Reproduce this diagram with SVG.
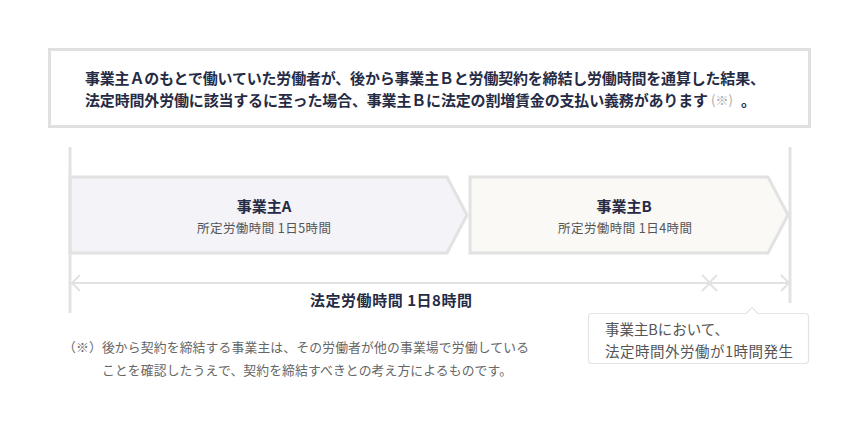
<svg xmlns="http://www.w3.org/2000/svg" width="860" height="430" viewBox="0 0 860 430">
<style>
.jp{font-family:"Noto Sans CJK JP","Noto Sans",sans-serif}
.b{font-weight:700;fill:#262b45}
.sub{font-size:12.5px;fill:#555555}
.note{font-size:12.8px;fill:#666666}
.line{stroke:#e2e2e2;stroke-width:2;fill:none}
.vline{stroke:#e2e2e2;stroke-width:3;fill:none}
.box{stroke:#e2e2e2;stroke-width:3}
</style>
<rect width="860" height="430" fill="#ffffff"/>
<g id="summary">
<rect x="49.5" y="49.5" width="760" height="77" fill="#ffffff" stroke="#e0e0e0" stroke-width="3"/>
<text class="jp b" x="85" y="84" font-size="15" textLength="680" lengthAdjust="spacing">事業主Ａのもとで働いていた労働者が、後から事業主Ｂと労働契約を締結し労働時間を通算した結果、</text>
<text class="jp b" x="85" y="106" font-size="15" textLength="623" lengthAdjust="spacing">法定時間外労働に該当するに至った場合、事業主Ｂに法定の割増賃金の支払い義務があります</text>
<text class="jp" x="711" y="105" font-size="13" fill="#a8a8a8">(※)</text>
<text class="jp b" x="741" y="106" font-size="15">。</text>
</g>
<g id="employerA">
<polygon class="box" points="70,177 447,177 467,215 447,253 70,253" fill="#f3f3f8"/>
<text class="jp b" x="264" y="212" font-size="15" text-anchor="middle">事業主A</text>
<text class="jp sub" x="264" y="233" text-anchor="middle" textLength="134" lengthAdjust="spacing">所定労働時間 1日5時間</text>
</g>
<g id="employerB">
<polygon class="box" points="470,177 768,177 788,215 768,253 470,253" fill="#faf9f5"/>
<text class="jp b" x="624" y="212" font-size="15" text-anchor="middle">事業主B</text>
<text class="jp sub" x="625" y="233" text-anchor="middle" textLength="134" lengthAdjust="spacing">所定労働時間 1日4時間</text>
</g>
<g id="connectors">
<line class="vline" x1="70" y1="147" x2="70" y2="313"/>
<line class="vline" x1="790" y1="147" x2="790" y2="303"/>
<line class="line" x1="71" y1="283" x2="710" y2="283"/>
<polyline class="line" points="80,275 72,283 80,291"/>
<polyline class="line" points="702,275 710,283 702,291"/>
<line class="line" x1="709" y1="283" x2="789" y2="283"/>
<polyline class="line" points="717,275 709,283 717,291"/>
<polyline class="line" points="781,275 789,283 781,291"/>
</g>
<g id="legal-hours">
<text class="jp b" x="391" y="306" font-size="15" text-anchor="middle" textLength="162" lengthAdjust="spacing">法定労働時間 1日8時間</text>
</g>
<g id="callout">
<path d="M592,313.5 H746 L752,307.5 L758,313.5 H805 Q808.5,313.5 808.5,317 V360 Q808.5,363.5 805,363.5 H592 Q588.5,363.5 588.5,360 V317 Q588.5,313.5 592,313.5 Z" fill="#ffffff" stroke="#e3e3e3" stroke-width="1.2"/>
<text class="jp" x="605" y="335" font-size="14.5" fill="#555555" textLength="124" lengthAdjust="spacing">事業主Bにおいて、</text>
<text class="jp" x="605" y="357" font-size="14.5" fill="#555555" textLength="188" lengthAdjust="spacing">法定時間外労働が1時間発生</text>
</g>
<g id="footnote">
<text class="jp note" x="63" y="352" textLength="466" lengthAdjust="spacing">（※）後から契約を締結する事業主は、その労働者が他の事業場で労働している</text>
<text class="jp note" x="102" y="375" textLength="410" lengthAdjust="spacing">ことを確認したうえで、契約を締結すべきとの考え方によるものです。</text>
</g>
</svg>
